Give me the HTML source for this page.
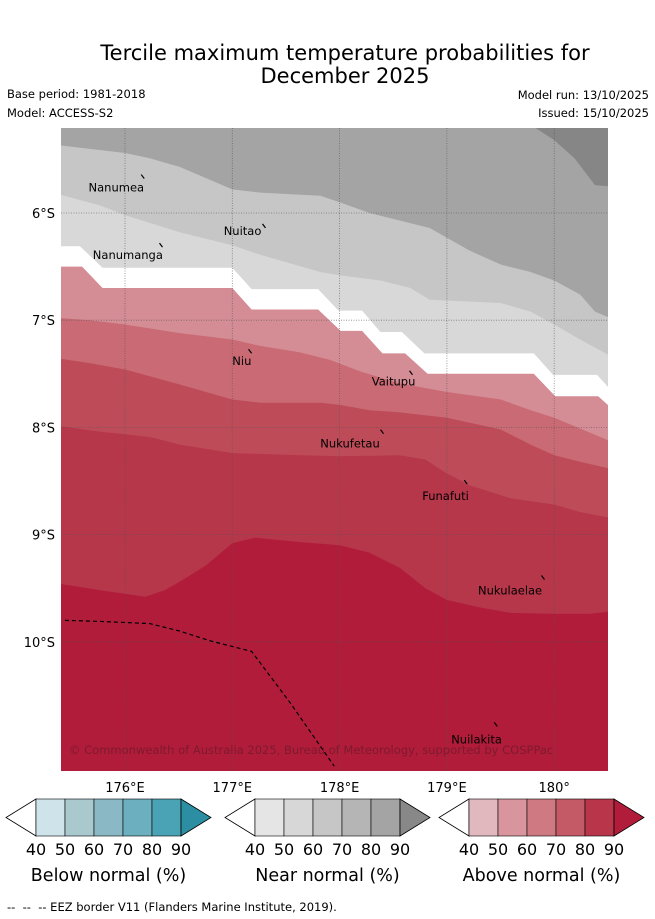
<!DOCTYPE html>
<html><head><meta charset="utf-8"><style>
body{margin:0;background:#fff;width:655px;height:919px;overflow:hidden;font-family:"Liberation Sans","DejaVu Sans",sans-serif}
svg{position:absolute;left:0;top:0}
</style></head><body>
<svg id="chart" width="655" height="919" font-family="DejaVu Sans, Liberation Sans, sans-serif">
<text x="345" y="60" text-anchor="middle" font-size="21">Tercile maximum temperature probabilities for</text>
<text x="345" y="83" text-anchor="middle" font-size="21">December 2025</text>
<text x="7" y="98" font-size="11.5">Base period: 1981-2018</text>
<text x="7" y="117" font-size="11.5">Model: ACCESS-S2</text>
<text x="649" y="99" font-size="11.5" text-anchor="end">Model run: 13/10/2025</text>
<text x="649" y="117" font-size="11.5" text-anchor="end">Issued: 15/10/2025</text>
<g id="map"></g>
<text x="7" y="911" font-size="11.5">-- &#160;-- &#160;-- EEZ border V11 (Flanders Marine Institute, 2019).</text>
</svg>
<script>
const lonTicks=[176,177,178,179,180];
const lonTickLabels=["176°E","177°E","178°E","179°E","180°"];
const latTicks=[6,7,8,9,10];
const latTickLabels=["6°S","7°S","8°S","9°S","10°S"];
const layerColors=["#a4a4a4","#c6c6c6","#d8d8d8","#ffffff","#d48c95","#c96a74","#bd4b58","#b6364a","#b01c3a"];
const boundaries=[
 [[175.40,5.37],[176.0,5.44],[176.23,5.49],[176.51,5.57],[177.0,5.78],[177.26,5.81],[177.82,5.84],[178.0,5.90],[178.28,6.0],[178.56,6.07],[178.84,6.14],[179.0,6.23],[179.21,6.35],[179.50,6.48],[179.78,6.55],[180.0,6.63],[180.24,6.76],[180.38,6.92],[180.50,6.97]],
 [[175.40,5.83],[175.77,5.93],[176.0,6.02],[176.51,6.18],[177.0,6.30],[177.26,6.39],[177.82,6.55],[178.0,6.58],[178.38,6.63],[178.66,6.70],[178.84,6.81],[179.50,6.84],[179.78,6.92],[180.0,7.04],[180.24,7.18],[180.50,7.32]],
 [[175.40,6.31],[175.58,6.31],[175.79,6.51],[177.0,6.51],[177.18,6.71],[177.80,6.71],[177.99,6.91],[178.21,6.91],[178.38,7.11],[178.58,7.11],[178.79,7.31],[179.81,7.31],[179.99,7.51],[180.40,7.51],[180.50,7.62]],
 [[175.40,6.50],[175.60,6.50],[175.79,6.70],[177.0,6.70],[177.18,6.90],[177.80,6.90],[178.01,7.10],[178.21,7.10],[178.40,7.31],[178.61,7.31],[178.82,7.50],[179.81,7.50],[180.01,7.71],[180.41,7.71],[180.50,7.79]],
 [[175.40,6.98],[175.67,7.0],[176.0,7.04],[176.51,7.12],[177.0,7.18],[177.26,7.24],[177.63,7.30],[177.91,7.37],[178.20,7.48],[178.56,7.59],[179.0,7.67],[179.50,7.74],[179.78,7.84],[180.0,7.91],[180.24,8.01],[180.43,8.09],[180.50,8.12]],
 [[175.40,7.36],[175.67,7.40],[176.0,7.46],[176.51,7.60],[177.0,7.74],[177.26,7.77],[177.82,7.77],[178.0,7.79],[178.28,7.84],[178.56,7.86],[179.0,7.91],[179.50,8.02],[179.78,8.16],[180.0,8.26],[180.24,8.32],[180.50,8.38]],
 [[175.40,7.99],[175.77,8.04],[176.23,8.09],[176.51,8.16],[177.0,8.24],[177.63,8.26],[178.0,8.27],[178.56,8.26],[178.80,8.30],[179.0,8.43],[179.21,8.54],[179.59,8.66],[180.0,8.72],[180.24,8.79],[180.50,8.84]],
 [[175.40,9.46],[175.77,9.52],[176.19,9.58],[176.37,9.52],[176.51,9.44],[176.75,9.29],[177.0,9.08],[177.21,9.03],[177.63,9.07],[178.0,9.10],[178.28,9.17],[178.56,9.31],[178.80,9.50],[179.0,9.61],[179.31,9.68],[179.59,9.73],[180.0,9.74],[180.33,9.74],[180.50,9.72]]
];
const topCorner=[[179.83,5.21],[180.0,5.32],[180.19,5.49],[180.38,5.74],[180.50,5.75]];
const eezLon=[175.44,175.77,176.23,176.51,176.79,177.18,177.54,177.95];
const eezLat=[9.80,9.81,9.83,9.90,9.99,10.09,10.57,11.16];
const islandNames=["Nanumea","Nuitao","Nanumanga","Niu","Vaitupu","Nukufetau","Funafuti","Nukulaelae","Nuilakita"];
const islandLon=[176.17,177.30,176.34,177.17,178.67,178.40,179.18,179.90,179.46];
const islandLat=[5.66,6.12,6.30,7.29,7.49,8.04,8.51,9.40,10.77];
const labelLon=[175.66,176.92,175.70,177.0,178.30,177.82,178.77,179.29,179.04];
const labelLat=[5.76,6.17,6.39,7.38,7.57,8.15,8.64,9.52,10.91];
const cbLevels=["40","50","60","70","80","90"];
const cbBelow=["#cfe4ea","#aac9cf","#8bb8c5","#6cafbe","#4aa3b5","#2b8ea3"];
const cbNear=["#e5e5e5","#d7d7d7","#c6c6c6","#b5b5b5","#a4a4a4","#888888"];
const cbAbove=["#e2b8bf","#d9959e","#cf7a83","#c55a67","#b9354a","#b01c3a"];
const cbTitles=["Below normal (%)","Near normal (%)","Above normal (%)"];

const NS="http://www.w3.org/2000/svg";
const X0=61,X1=608,Y0=128,Y1=771;
const xs=lon=>125+(lon-176)*107.3;
const ys=lat=>213+(lat-6)*107.2;
function mk(t,a,p){const e=document.createElementNS(NS,t);for(const k in a)e.setAttribute(k,a[k]);(p||document.getElementById('map')).appendChild(e);return e;}
const cp=mk('clipPath',{id:'mc'});mk('rect',{x:X0,y:Y0,width:X1-X0,height:Y1-Y0},cp);
const g=mk('g',{'clip-path':'url(#mc)'});
let base=mk('rect',{x:X0,y:Y0,width:X1-X0,height:Y1-Y0,fill:layerColors[0]},g);


let tc=mk('polygon',{fill:'#868686',points:topCorner.map(p=>xs(p[0])+','+ys(p[1])).join(' ')+' '+(X1+5)+','+Y0+' '+(X1+5)+','+(Y0-5)+' '+xs(topCorner[0][0])+','+(Y0-5)},g);


boundaries.forEach((b,i)=>{
 const pts=b.map(p=>xs(p[0]).toFixed(1)+','+ys(p[1]).toFixed(1));
 pts.push((X1+5)+','+(ys(b[b.length-1][1])),(X1+5)+','+(Y1+5),(X0-5)+','+(Y1+5),(X0-5)+','+ys(b[0][1]));
 const e=mk('polygon',{points:pts.join(' '),fill:layerColors[i+1]},g);
 
 
});
lonTicks.forEach((l,i)=>{
 const e=mk('line',{x1:xs(l),x2:xs(l),y1:Y0,y2:Y1,stroke:'#555','stroke-width':0.8,'stroke-dasharray':'1,1.5',opacity:0.7},g);
 
 
 const t=mk('text',{x:xs(l),y:792,'text-anchor':'middle','font-size':13});
 t.textContent=lonTickLabels[i];
 
 
});
latTicks.forEach((l,i)=>{
 const e=mk('line',{x1:X0,x2:X1,y1:ys(l),y2:ys(l),stroke:'#555','stroke-width':0.8,'stroke-dasharray':'1,1.5',opacity:0.7},g);
 
 
 const t=mk('text',{x:55,y:ys(l)+5,'text-anchor':'end','font-size':13});
 t.textContent=latTickLabels[i];
 
 
});
const eez=mk('polyline',{points:eezLon.map((l,i)=>xs(l)+','+ys(eezLat[i])).join(' '),fill:'none',stroke:'#000','stroke-width':1.2,'stroke-dasharray':'4,3'},g);


islandNames.forEach((n,i)=>{
 const m=mk('line',{x1:xs(islandLon[i])-2,y1:ys(islandLat[i])-2,x2:xs(islandLon[i])+1,y2:ys(islandLat[i])+2,stroke:'#000','stroke-width':1.2},g);
 
 
 const t=mk('text',{x:xs(labelLon[i]),y:ys(labelLat[i])+4,'font-size':11.5},g);
 t.textContent=n;
 
 
});
const cr=mk('text',{x:69,y:754,'font-size':11.5,fill:'#6e1a2a','fill-opacity':0.75},g);
cr.textContent='© Commonwealth of Australia 2025, Bureau of Meteorology, supported by COSPPac';


[[cbBelow,6],[cbNear,225],[cbAbove,439]].forEach((c,k)=>{
 const cols=c[0],x=c[1],y=799,h=37,tw=30,cw=29;
 const gg=mk('g',{});
 
 
 mk('polygon',{points:`${x+tw},${y} ${x},${y+h/2} ${x+tw},${y+h}`,fill:'#fff',stroke:'#000','stroke-width':0.8},gg);
 for(let i=0;i<5;i++)mk('rect',{x:x+tw+i*cw,y:y,width:cw,height:h,fill:cols[i],stroke:'#000','stroke-width':0.6},gg);
 const xe=x+tw+5*cw;
 mk('polygon',{points:`${xe},${y} ${xe+tw},${y+h/2} ${xe},${y+h}`,fill:cols[5],stroke:'#000','stroke-width':0.8},gg);
 cbLevels.forEach((v,i)=>{const t=mk('text',{x:x+tw+i*cw,y:855,'text-anchor':'middle','font-size':16},gg);t.textContent=v;});
 const tt=mk('text',{x:x+tw+2.5*cw,y:881,'text-anchor':'middle','font-size':17.5},gg);tt.textContent=cbTitles[k];
});
</script>
</body></html>
